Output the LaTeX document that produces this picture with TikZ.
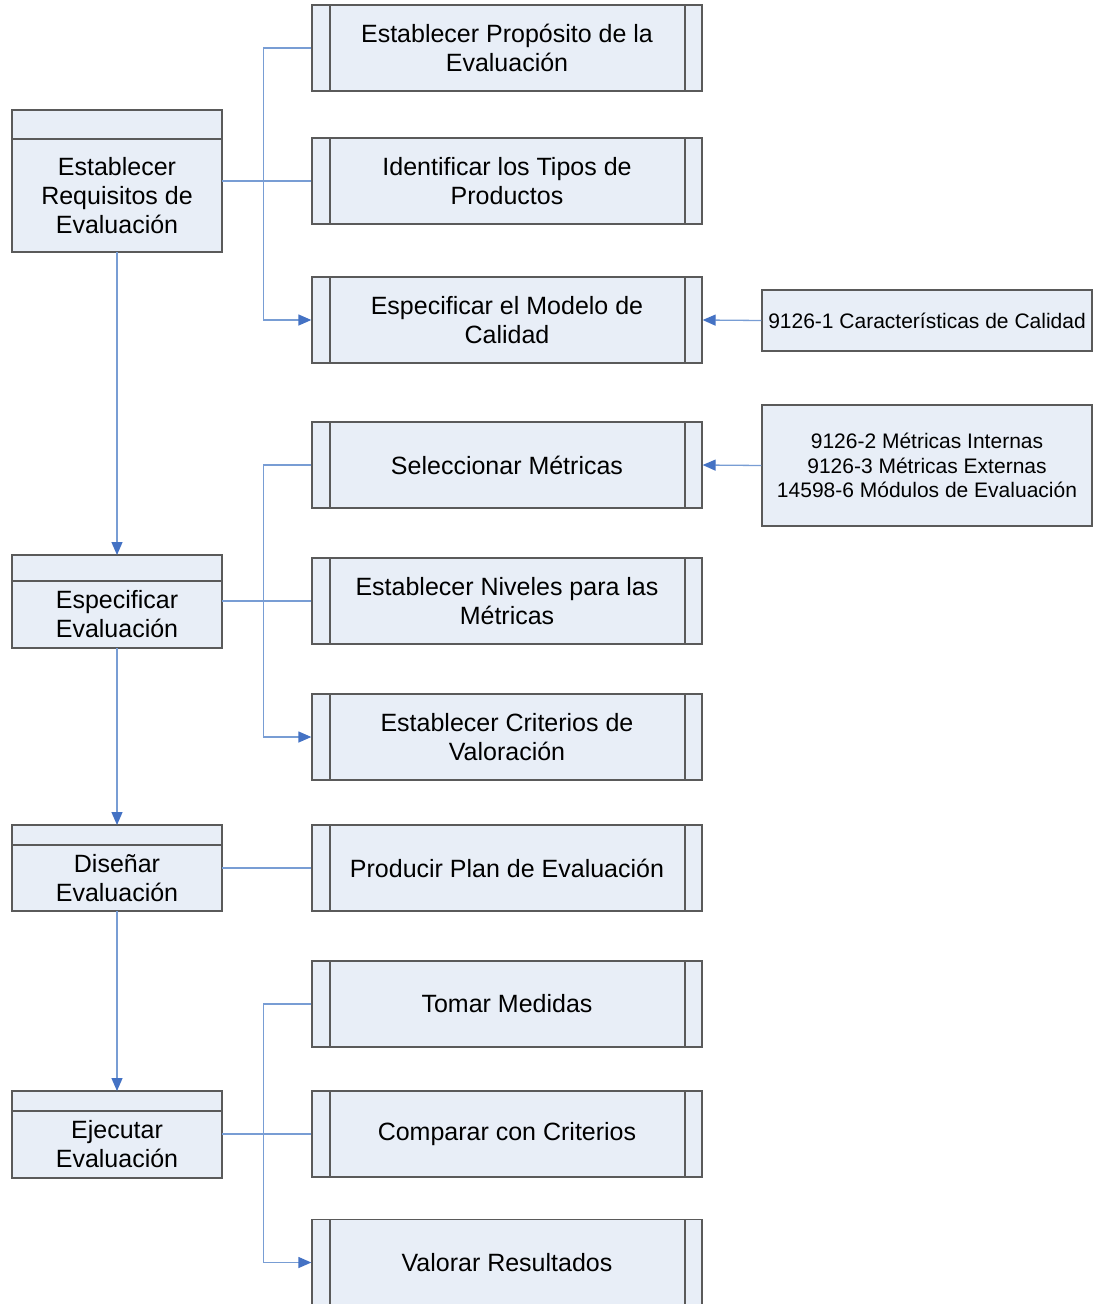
\documentclass[tikz,border=0pt]{standalone}
\usepackage{fontspec}
\setmainfont{Liberation Sans}
\usetikzlibrary{arrows.meta}
\definecolor{boxfill}{RGB}{232,238,247}
\definecolor{boxline}{RGB}{90,90,90}
\definecolor{connline}{RGB}{120,157,212}
\definecolor{arrowc}{RGB}{68,114,196}
\begin{document}
\begin{tikzpicture}[x=1pt,y=-1pt,
  bigtext/.style={font=\fontsize{25}{29}\selectfont},
  smalltext/.style={font=\fontsize{21}{24.5}\selectfont},
  rbox/.style={draw=boxline, fill=boxfill, line width=1.3pt, minimum width=390pt,
    minimum height=86pt, inner sep=0pt, align=center, bigtext,
    path picture={\draw[boxline,line width=1.3pt]
      ([xshift=18pt]path picture bounding box.north west) -- ([xshift=18pt]path picture bounding box.south west)
      ([xshift=-17pt]path picture bounding box.north east) -- ([xshift=-17pt]path picture bounding box.south east);}},
  lbody/.style={draw=boxline, fill=boxfill, line width=1.3pt, minimum width=210pt,
    minimum height=#1, inner sep=0pt, outer sep=0pt, align=center, bigtext},
  lhead/.style={draw=boxline, fill=boxfill, line width=1.3pt, minimum width=210pt,
    minimum height=#1, inner sep=0pt, outer sep=0pt, anchor=south},
  qbox/.style={draw=boxline, fill=boxfill, line width=1.3pt, minimum width=330pt,
    minimum height=#1, inner sep=0pt, align=center, smalltext},
  conn/.style={draw=connline, line width=1.3pt},
  arr/.style={-{Triangle[length=13pt,width=11pt,color=arrowc]}}
]
\fill[white] (0,0) rectangle (1101,1304);
\useasboundingbox (0,0) rectangle (1101,1304);

% left boxes
\node[lbody=113pt] (l1) at (117,195.5) {Establecer\\Requisitos de\\Evaluación};
\node[lhead=29pt] (h1) at (l1.north) {};
\node[lbody=67pt] (l2) at (117,614.5) {Especificar\\Evaluación};
\node[lhead=26pt] (h2) at (l2.north) {};
\node[lbody=66pt] (l3) at (117,878) {Diseñar\\Evaluación};
\node[lhead=20pt] (h3) at (l3.north) {};
\node[lbody=67pt] (l4) at (117,1144.5) {Ejecutar\\Evaluación};
\node[lhead=20pt] (h4) at (l4.north) {};

% right boxes
\node[rbox] (r1) at (507,48) {Establecer Propósito de la\\Evaluación};
\node[rbox] (r2) at (507,181) {Identificar los Tipos de\\Productos};
\node[rbox] (r3) at (507,320) {Especificar el Modelo de\\Calidad};
\node[rbox] (r4) at (507,465) {Seleccionar Métricas};
\node[rbox] (r5) at (507,601) {Establecer Niveles para las\\Métricas};
\node[rbox] (r6) at (507,737) {Establecer Criterios de\\Valoración};
\node[rbox] (r7) at (507,868) {Producir Plan de Evaluación};
\node[rbox] (r8) at (507,1004) {Tomar Medidas};
\node[rbox] (r9) at (507,1134) {Comparar con Criterios};
\node[rbox] (r10) at (507,1262.5) {Valorar Resultados};

% reference boxes
\node[qbox=61pt] (q1) at (927,320.5) {9126-1 Características de Calidad};
\node[qbox=121pt] (q2) at (927,465.5) {9126-2 Métricas Internas\\9126-3 Métricas Externas\\14598-6 Módulos de Evaluación};

% connectors
\draw[conn] (l1.east |- r2.west) -- (r2.west);
\draw[conn,arr] (r1.west) -- ++(-48,0) |- (r3.west);
\draw[conn] (l2.east |- r5.west) -- (r5.west);
\draw[conn,arr] (r4.west) -- ++(-48,0) |- (r6.west);
\draw[conn] (l3.east |- r7.west) -- (r7.west);
\draw[conn] (l4.east |- r9.west) -- (r9.west);
\draw[conn,arr] (r8.west) -- ++(-48,0) |- (r10.west);

\draw[conn,arr] (l1.south) -- (h2.north);
\draw[conn,arr] (l2.south) -- (h3.north);
\draw[conn,arr] (l3.south) -- (h4.north);

\draw[conn,arr] (q1.west) -- (r3.east);
\draw[conn,arr] (q2.west) -- (r4.east);
\end{tikzpicture}
\end{document}
